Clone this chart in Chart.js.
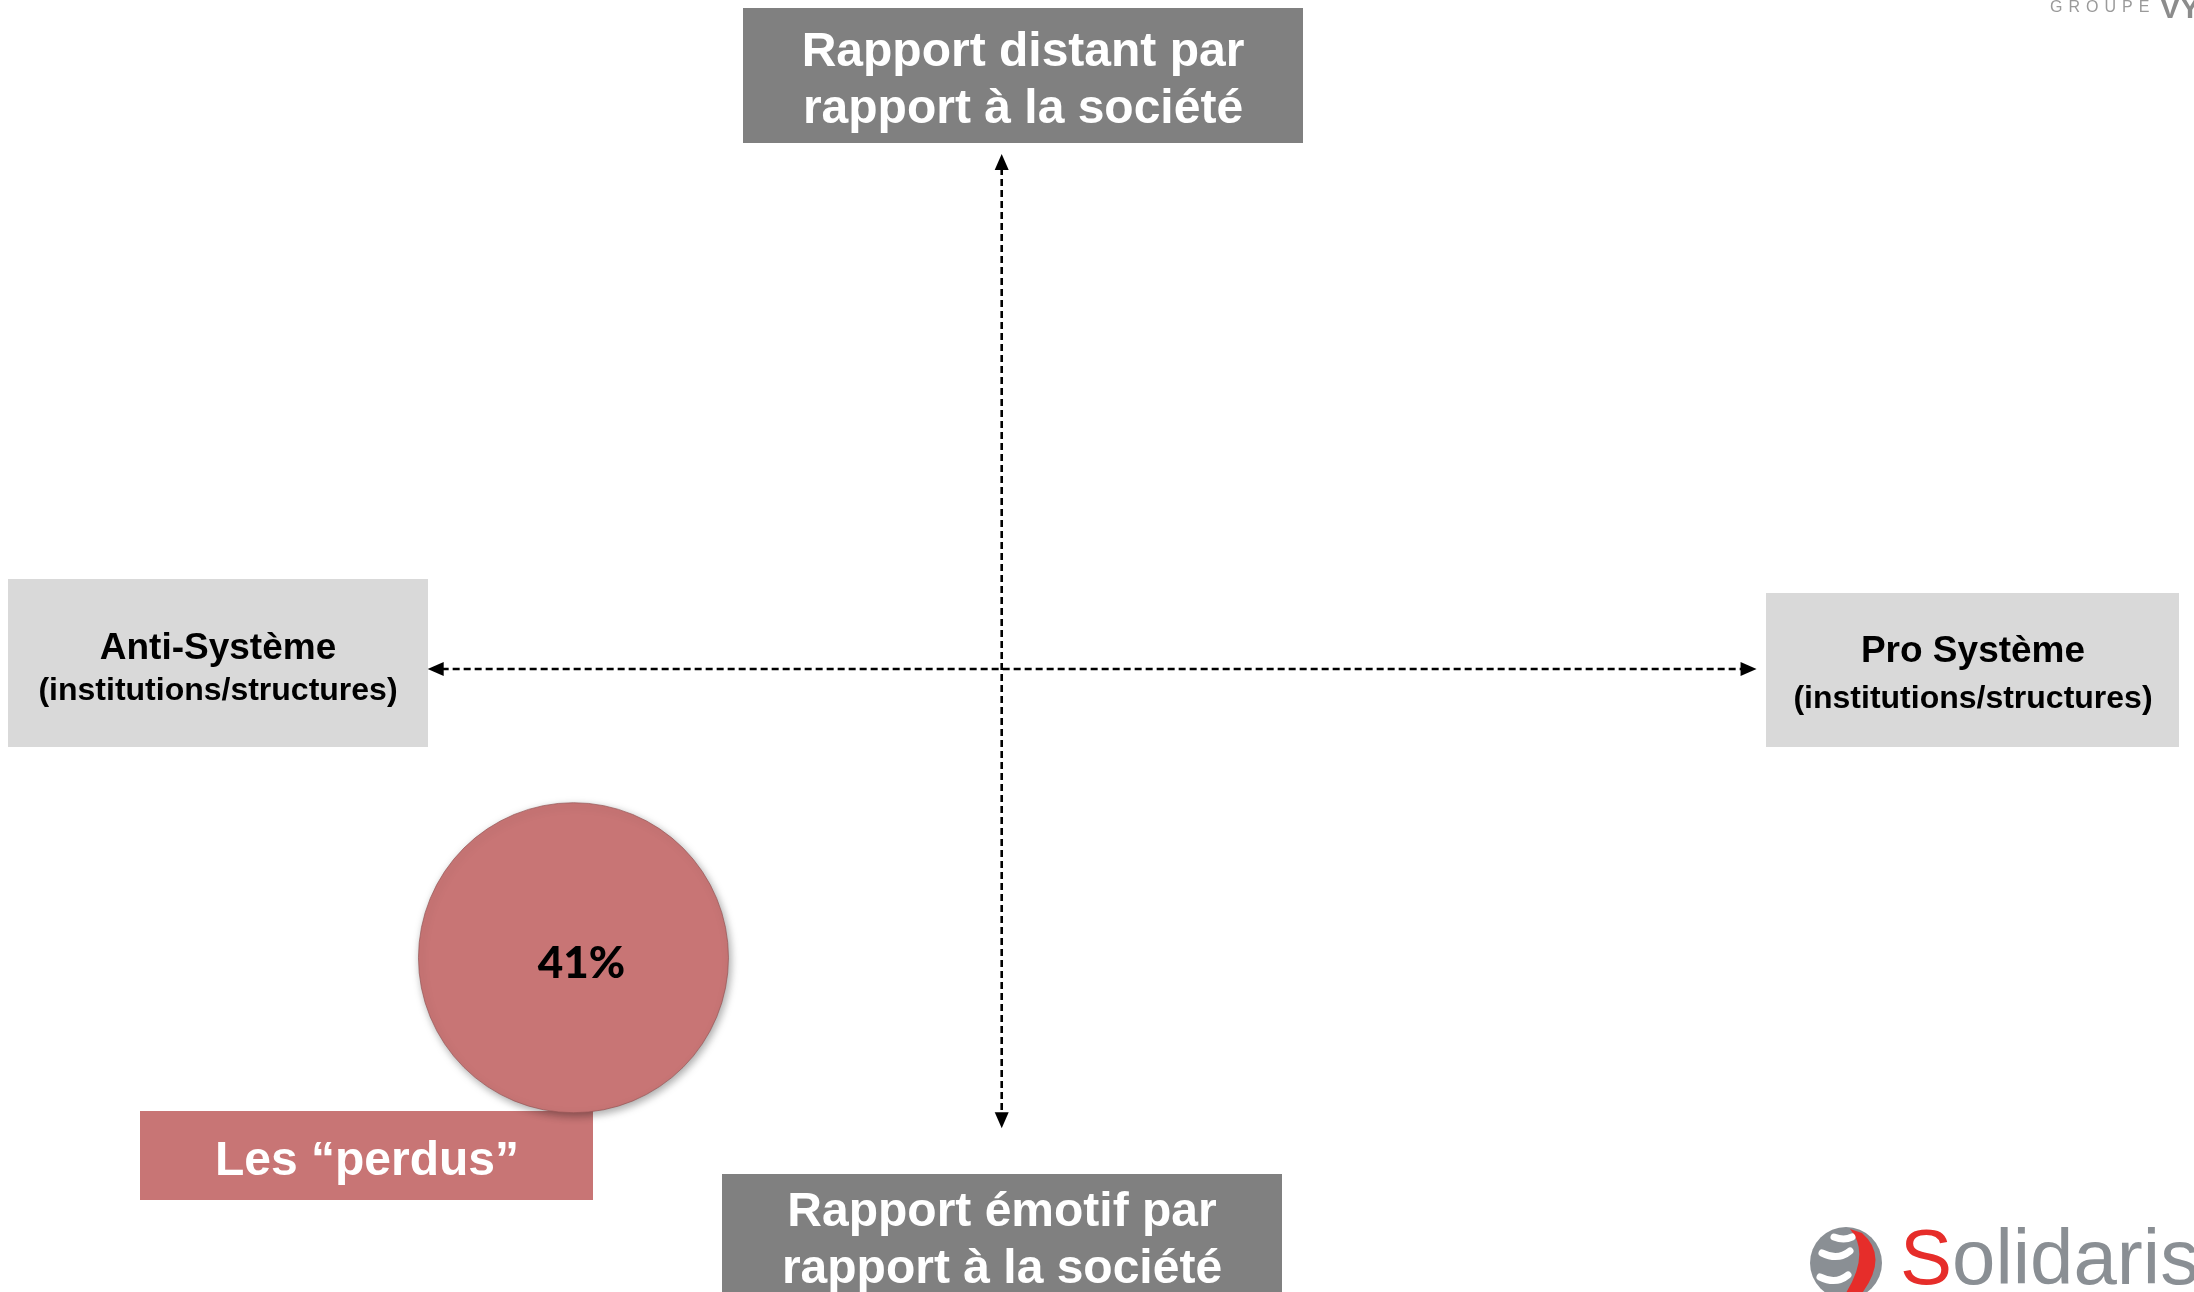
<!DOCTYPE html>
<html lang="fr">
<head>
    <meta charset="UTF-8">
    <title>Rapport à la société - segments</title>
    <script src="https://cdn.jsdelivr.net/npm/chart.js"></script>
    <style>
        html, body {
            margin: 0;
            padding: 0;
            background: #ffffff;
        }

        #chart-container {
            width: 2194px;
            height: 1292px;
            position: relative;
        }
    </style>
</head>
<body>
    <div id="chart-container">
        <canvas id="mapChart"></canvas>
    </div>

    <script>
        // axes du mapping (extrémités des flèches, en unités du graphique)
        const axisX = [-1.0, 1.315];
        const axisY = [-0.8, 0.897];

        // libellés des pôles
        const poleTop = ['Rapport distant par', 'rapport à la société'];
        const poleBottom = ['Rapport émotif par', 'rapport à la société'];
        const poleLeft = ['Anti-Système', '(institutions/structures)'];
        const poleRight = ['Pro Système', '(institutions/structures)'];

        // segments
        const segments = ['Les “perdus”'];
        const segX = [-0.746];
        const segY = [-0.503];
        const segShare = [41];
        const segRadius = [155];

        const FONT = '"Liberation Sans", Arial, sans-serif';

        function box(ctx, x, y, w, h, fill, lines, color) {
            ctx.save();
            ctx.fillStyle = fill;
            ctx.fillRect(x, y, w, h);
            ctx.fillStyle = color;
            ctx.textAlign = 'center';
            ctx.textBaseline = 'middle';
            lines.forEach(l => {
                ctx.font = 'bold ' + l.size + 'px ' + FONT;
                ctx.fillText(l.text, l.cx, l.cy);
            });
            ctx.restore();
        }

        function arrowHead(ctx, x, y, dx, dy) {
            const len = 16, half = 7;
            ctx.beginPath();
            ctx.moveTo(x, y);
            ctx.lineTo(x - dx * len - dy * half, y - dy * len - dx * half);
            ctx.lineTo(x - dx * len + dy * half, y - dy * len + dx * half);
            ctx.closePath();
            ctx.fill();
        }

        const mapPlugin = {
            id: 'mapPlugin',
            beforeDatasetsDraw(chart) {
                const ctx = chart.ctx;
                const xs = chart.scales.x, ys = chart.scales.y;
                const x0 = xs.getPixelForValue(0), y0 = ys.getPixelForValue(0);
                const xl = xs.getPixelForValue(axisX[0]), xr = xs.getPixelForValue(axisX[1]);
                const yb = ys.getPixelForValue(axisY[0]), yt = ys.getPixelForValue(axisY[1]);

                // axes pointillés
                ctx.save();
                ctx.strokeStyle = '#000';
                ctx.fillStyle = '#000';
                ctx.lineWidth = 2.6;
                ctx.setLineDash([7, 4]);
                ctx.beginPath();
                ctx.moveTo(xl + 14, y0);
                ctx.lineTo(xr - 14, y0);
                ctx.moveTo(x0, yt + 14);
                ctx.lineTo(x0, yb - 14);
                ctx.stroke();
                ctx.setLineDash([]);
                arrowHead(ctx, xl, y0, -1, 0);
                arrowHead(ctx, xr, y0, 1, 0);
                arrowHead(ctx, x0, yt, 0, -1);
                arrowHead(ctx, x0, yb, 0, 1);
                ctx.restore();

                // pôles
                box(ctx, 743, 8, 560, 135, '#808080', [
                    {text: poleTop[0], size: 48, cx: 1023, cy: 53},
                    {text: poleTop[1], size: 48, cx: 1023, cy: 110}
                ], '#ffffff');
                box(ctx, 722, 1174, 560, 140, '#808080', [
                    {text: poleBottom[0], size: 48, cx: 1002, cy: 1213},
                    {text: poleBottom[1], size: 48, cx: 1002, cy: 1270}
                ], '#ffffff');
                box(ctx, 8, 579, 420, 168, '#d9d9d9', [
                    {text: poleLeft[0], size: 37, cx: 218, cy: 649},
                    {text: poleLeft[1], size: 32, cx: 218, cy: 691}
                ], '#000000');
                box(ctx, 1766, 593, 413, 154, '#d9d9d9', [
                    {text: poleRight[0], size: 37, cx: 1973, cy: 652},
                    {text: poleRight[1], size: 32, cx: 1973, cy: 699}
                ], '#000000');

                // étiquette du segment
                box(ctx, 140, 1111, 453, 89, '#c87575', [
                    {text: segments[0], size: 48, cx: 367, cy: 1162}
                ], '#ffffff');
            },
            beforeDatasetDraw(chart) {
                const ctx = chart.ctx;
                ctx.save();
                ctx.shadowColor = 'rgba(0,0,0,0.35)';
                ctx.shadowBlur = 8;
                ctx.shadowOffsetX = 2;
                ctx.shadowOffsetY = 3;
            },
            afterDatasetDraw(chart) {
                chart.ctx.restore();
            },
            afterDatasetsDraw(chart) {
                const ctx = chart.ctx;
                const meta = chart.getDatasetMeta(0);
                meta.data.forEach((pt, i) => {
                    ctx.save();
                    ctx.fillStyle = '#000';
                    ctx.font = '900 44px Lato, "Open Sans", sans-serif';
                    ctx.textAlign = 'center';
                    ctx.textBaseline = 'middle';
                    ctx.fillText(segShare[i] + '%', pt.x + 8, pt.y + 6);
                    ctx.restore();
                });

                // logos
                ctx.save();
                ctx.fillStyle = '#9a9a9a';
                ctx.font = '16px ' + FONT;
                ctx.textBaseline = 'alphabetic';
                ctx.textAlign = 'left';
                if ('letterSpacing' in ctx) ctx.letterSpacing = '6px';
                ctx.fillText('GROUPE', 2050, 12);
                if ('letterSpacing' in ctx) ctx.letterSpacing = '0px';
                ctx.fillStyle = '#8c8c8c';
                ctx.font = 'bold 30px ' + FONT;
                ctx.fillText('VYV', 2160, 18);

                // Solidaris
                const gx = 1846, gy = 1263, gr = 36;
                ctx.fillStyle = '#8a8f94';
                ctx.beginPath();
                ctx.arc(gx, gy, gr, 0, Math.PI * 2);
                ctx.fill();
                ctx.fillStyle = '#e62d2a';
                ctx.beginPath();
                ctx.moveTo(gx + 4, gy - 34);
                ctx.quadraticCurveTo(gx + 26, gy - 8, gx - 4, gy + 36);
                ctx.lineTo(gx + 14, gy + 33);
                ctx.quadraticCurveTo(gx + 44, gy - 6, gx + 16, gy - 30);
                ctx.closePath();
                ctx.fill();
                ctx.strokeStyle = '#ffffff';
                ctx.lineWidth = 7;
                ctx.lineCap = 'round';
                ctx.beginPath();
                ctx.moveTo(gx - 24, gy - 10);
                ctx.quadraticCurveTo(gx - 8, gy - 2, gx + 4, gy - 12);
                ctx.moveTo(gx - 26, gy + 14);
                ctx.quadraticCurveTo(gx - 10, gy + 22, gx + 2, gy + 12);
                ctx.moveTo(gx - 12, gy - 26);
                ctx.quadraticCurveTo(gx - 2, gy - 22, gx + 6, gy - 26);
                ctx.stroke();

                ctx.font = '78px ' + FONT;
                ctx.fillStyle = '#e62d2a';
                ctx.fillText('S', 1900, 1284);
                const sw = ctx.measureText('S').width;
                ctx.fillStyle = '#8a8f94';
                ctx.fillText('olidaris', 1900 + sw, 1284);
                ctx.restore();
            }
        };

        function createChart() {
            const ctx = document.getElementById('mapChart').getContext('2d');

            new Chart(ctx, {
                type: 'bubble',
                data: {
                    labels: segments,
                    datasets: [{
                        label: 'Segments',
                        data: segments.map((s, i) => ({x: segX[i], y: segY[i], r: segRadius[i]})),
                        backgroundColor: function (c) {
                            const el = c.element;
                            if (!el || el.x === undefined) return '#c87575';
                            const g = c.chart.ctx.createRadialGradient(el.x, el.y, 0, el.x, el.y, segRadius[c.dataIndex]);
                            g.addColorStop(0, '#c87676');
                            g.addColorStop(0.86, '#c87676');
                            g.addColorStop(0.95, '#d68888');
                            g.addColorStop(1, '#b86a6a');
                            return g;
                        },
                        borderColor: 'rgba(150, 85, 85, 0.7)',
                        borderWidth: 1,
                        hoverRadius: 0,
                        clip: false
                    }]
                },
                options: {
                    responsive: false,
                    animation: false,
                    events: [],
                    layout: { padding: 0, autoPadding: false },
                    plugins: {
                        legend: { display: false },
                        tooltip: { enabled: false }
                    },
                    scales: {
                        x: { type: 'linear', min: -1.745, max: 2.077, display: false },
                        y: { type: 'linear', min: -1.0854, max: 1.1655, display: false }
                    }
                },
                plugins: [mapPlugin]
            });
        }

        const cv = document.getElementById('mapChart');
        cv.width = 2194;
        cv.height = 1292;
        createChart();
    </script>
</body>
</html>
